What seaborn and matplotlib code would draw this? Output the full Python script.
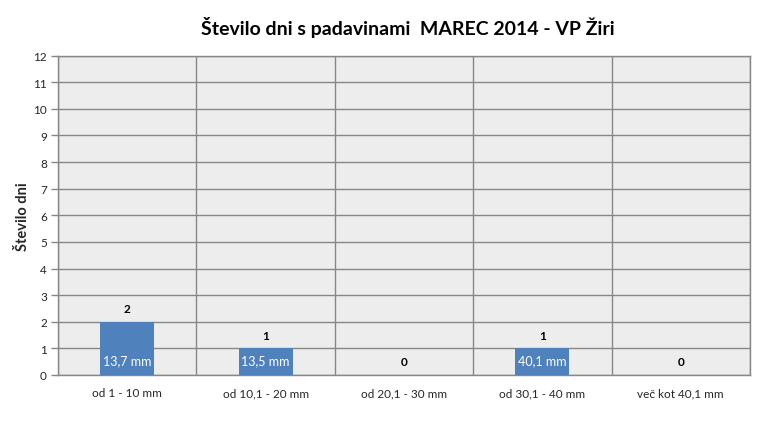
import matplotlib
matplotlib.use("Agg")
import matplotlib.pyplot as plt
import seaborn as sns
import pandas as pd
import numpy as np

categories = ["od 1 - 10 mm", "od 10,1 - 20 mm", "od 20,1 - 30 mm", "od 30,1 - 40 mm", "več kot 40,1 mm"]
days = [2, 1, 0, 1, 0]
amounts = ["13,7 mm", "13,5 mm", "", "40,1 mm", ""]

BAR_COLOR = "#4F81BD"
GRID_COLOR = "#878787"

sns.set_theme(style="white")
plt.rcParams["font.family"] = ["Lato", "DejaVu Sans"]

df = pd.DataFrame({"cat": categories, "days": days})

fig = plt.figure(figsize=(7.7, 4.39), dpi=100)
ax = fig.add_axes([58 / 770, 1 - 376 / 439, (750 - 58) / 770, (376 - 56.5) / 439])
ax.set_facecolor("#EDEDED")

sns.barplot(data=df, x="cat", y="days", color=BAR_COLOR, width=0.39,
            saturation=1, linewidth=0, ax=ax, zorder=3)

ax.set_ylim(0, 12)
ax.set_xlim(-0.5, len(categories) - 0.5)
ax.set_yticks(range(0, 13))
ax.set_xticks(np.arange(-0.5, len(categories)), minor=True)
ax.tick_params(axis="x", which="major", length=0, labelsize=8.5, pad=9)
ax.tick_params(axis="x", which="minor", length=5, color=GRID_COLOR, width=1)
ax.tick_params(axis="y", length=5, color=GRID_COLOR, width=1, labelsize=8.5, pad=3,
               left=True)
ax.grid(True, axis="y", color=GRID_COLOR, linewidth=1, zorder=0)
ax.grid(True, axis="x", which="minor", color=GRID_COLOR, linewidth=1, zorder=0)
ax.set_axisbelow(True)
for s in ax.spines.values():
    s.set_color(GRID_COLOR)
    s.set_linewidth(1)

ax.set_xlabel("")
ax.set_ylabel("Število dni", fontsize=10.5, fontweight="bold", labelpad=2)

for i, (d, a) in enumerate(zip(days, amounts)):
    ax.text(i, d + 0.5, str(d), ha="center", va="center", fontsize=8.5,
            fontweight="bold", color="black", zorder=5)
    if a:
        ax.text(i, 0.55, a, ha="center", va="center", fontsize=9,
                color="white", zorder=5)

fig.suptitle("Število dni s padavinami  MAREC 2014 - VP Žiri", x=(58 + 750) / 2 / 770 + 0.005,
             y=1 - 27 / 439, va="center", fontsize=14, fontweight="bold", color="black")

fig.savefig("out.png", dpi=100)
